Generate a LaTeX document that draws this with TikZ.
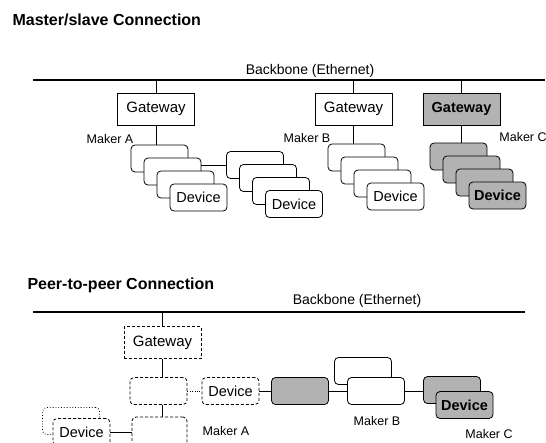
\documentclass[tikz,border=0pt]{standalone}
\usepackage{fontspec}
\setmainfont{Liberation Sans}
\tikzset{
  gwbox/.style={draw, line width=0.8pt, fill=white, inner sep=0pt, minimum width=77pt, minimum height=32pt, font=\fontsize{15}{15}\selectfont},
  devbox/.style={draw, line width=0.8pt, fill=white, rounded corners=4pt, inner sep=0pt, minimum width=57pt, minimum height=27pt, font=\fontsize{14.5}{15}\selectfont},
  shade/.style={fill=gray!60, font=\fontsize{14.5}{15}\selectfont\bfseries},
  dashbox/.style={dash pattern=on 3pt off 2pt},
  maker/.style={font=\fontsize{12.5}{13}\selectfont},
  title/.style={anchor=west, font=\fontsize{16}{16}\selectfont\bfseries},
  bone/.style={line width=2pt},
  bonetext/.style={font=\fontsize{14}{14}\selectfont}
}
\begin{document}
\begin{tikzpicture}[x=1pt,y=-1pt]
            \useasboundingbox (0,0) rectangle (546,442);
            \clip (0,0) rectangle (546,442);

            % Master/slave
            \node[title] (ms) at (9,20) {Master/slave Connection};
            \coordinate (bbw) at (33,80);
            \coordinate (bbe) at (545,80);
            \draw[bone] (bbw) -- (bbe);
            \node[bonetext] (bbt) at (310,71) {Backbone (Ethernet)};

            \node[gwbox] (gwa) at (156,109) {Gateway};
            \node[gwbox] (gwb) at (353.5,109) {Gateway};
            \node[gwbox, shade] (gwc) at (461.5,109) {Gateway};
            \draw (gwa.north) -- (gwa.north |- bbw);
            \draw (gwb.north) -- (gwb.north |- bbw);
            \draw (gwc.north) -- (gwc.north |- bbw);

            \node[maker] (mka) at (110,139) {Maker A};
            \node[maker] (mkb) at (307,138) {Maker B};
            \node[maker] (mkc) at (523,137) {Maker C};

            % piles de devices
            \node[devbox] (ma1) at (159.5,158.5) {};
            \node[devbox] (ma2) at (172.5,171.5) {};
            \node[devbox] (ma3) at (185.5,184.5) {};
            \node[devbox] (ma4) at (198.5,197.5) {Device};

            \node[devbox] (mx1) at (255,165) {};
            \node[devbox] (mx2) at (268,178) {};
            \node[devbox] (mx3) at (281,191) {};
            \node[devbox] (mx4) at (294,204) {Device};

            \node[devbox] (mb1) at (356.5,157.5) {};
            \node[devbox] (mb2) at (369.5,170.5) {};
            \node[devbox] (mb3) at (382.5,183.5) {};
            \node[devbox] (mb4) at (395.5,196.5) {Device};

            \node[devbox, shade] (mc1) at (458.5,156.5) {};
            \node[devbox, shade] (mc2) at (471.5,169.5) {};
            \node[devbox, shade] (mc3) at (484.5,182.5) {};
            \node[devbox, shade] (mc4) at (497.5,195.5) {Device};

            \draw (gwa.south) -- (gwa.south |- ma1.north);
            \draw (gwb.south) -- (gwb.south |- mb1.north);
            \draw (gwc.south) -- (gwc.south |- mc1.north);
            \draw (mx1.west) -- (mx1.west -| ma2.east);

            % Peer-to-peer
            \node[title] (pp) at (24,285) {Peer-to-peer Connection};
            \coordinate (bb2w) at (33,312);
            \coordinate (bb2e) at (525,312);
            \draw[bone] (bb2w) -- (bb2e);
            \node[bonetext] (bbt2) at (357,301) {Backbone (Ethernet)};

            \node[gwbox, dashbox] (pg) at (162.5,342.5) {Gateway};
            \node[devbox, dashbox] (pa1) at (158.5,391) {};
            \node[devbox, dashbox] (pa2) at (230.5,391) {Device};
            \node[devbox, dotted] (pa5) at (71,421) {};
            \node[devbox, dashbox] (pa4) at (81.5,432) {Device};
            \node[devbox, dashbox, minimum width=55pt, minimum height=30pt] (pa3) at (159.5,432) {};

            \node[devbox, shade] (px) at (300,391) {};
            \node[devbox] (pb1) at (363,371) {};
            \node[devbox] (pb2) at (376,391) {};
            \node[devbox, shade] (pc1) at (452,390) {};
            \node[devbox, shade] (pc2) at (464.5,405) {Device};

            \draw (pg.north) -- (pg.north |- bb2w);
            \draw (pg.south) -- (pg.south |- pa1.north);
            \draw (pg.south |- pa1.south) -- (pg.south |- pa3.north);
            \draw[dotted] (pa1.east) -- (pa2.west);
            \draw (pa2.east) -- (px.west);
            \draw (px.east) -- (pb2.west);
            \draw (pb2.east) -- (pb2.east -| pc1.west);
            \draw (pa4.east) -- (pa3.west);

            \node[maker] (pka) at (226,431) {Maker A};
            \node[maker] (pkb) at (377,421) {Maker B};
            \node[maker] (pkc) at (489,434) {Maker C};
        \end{tikzpicture}
\end{document}
